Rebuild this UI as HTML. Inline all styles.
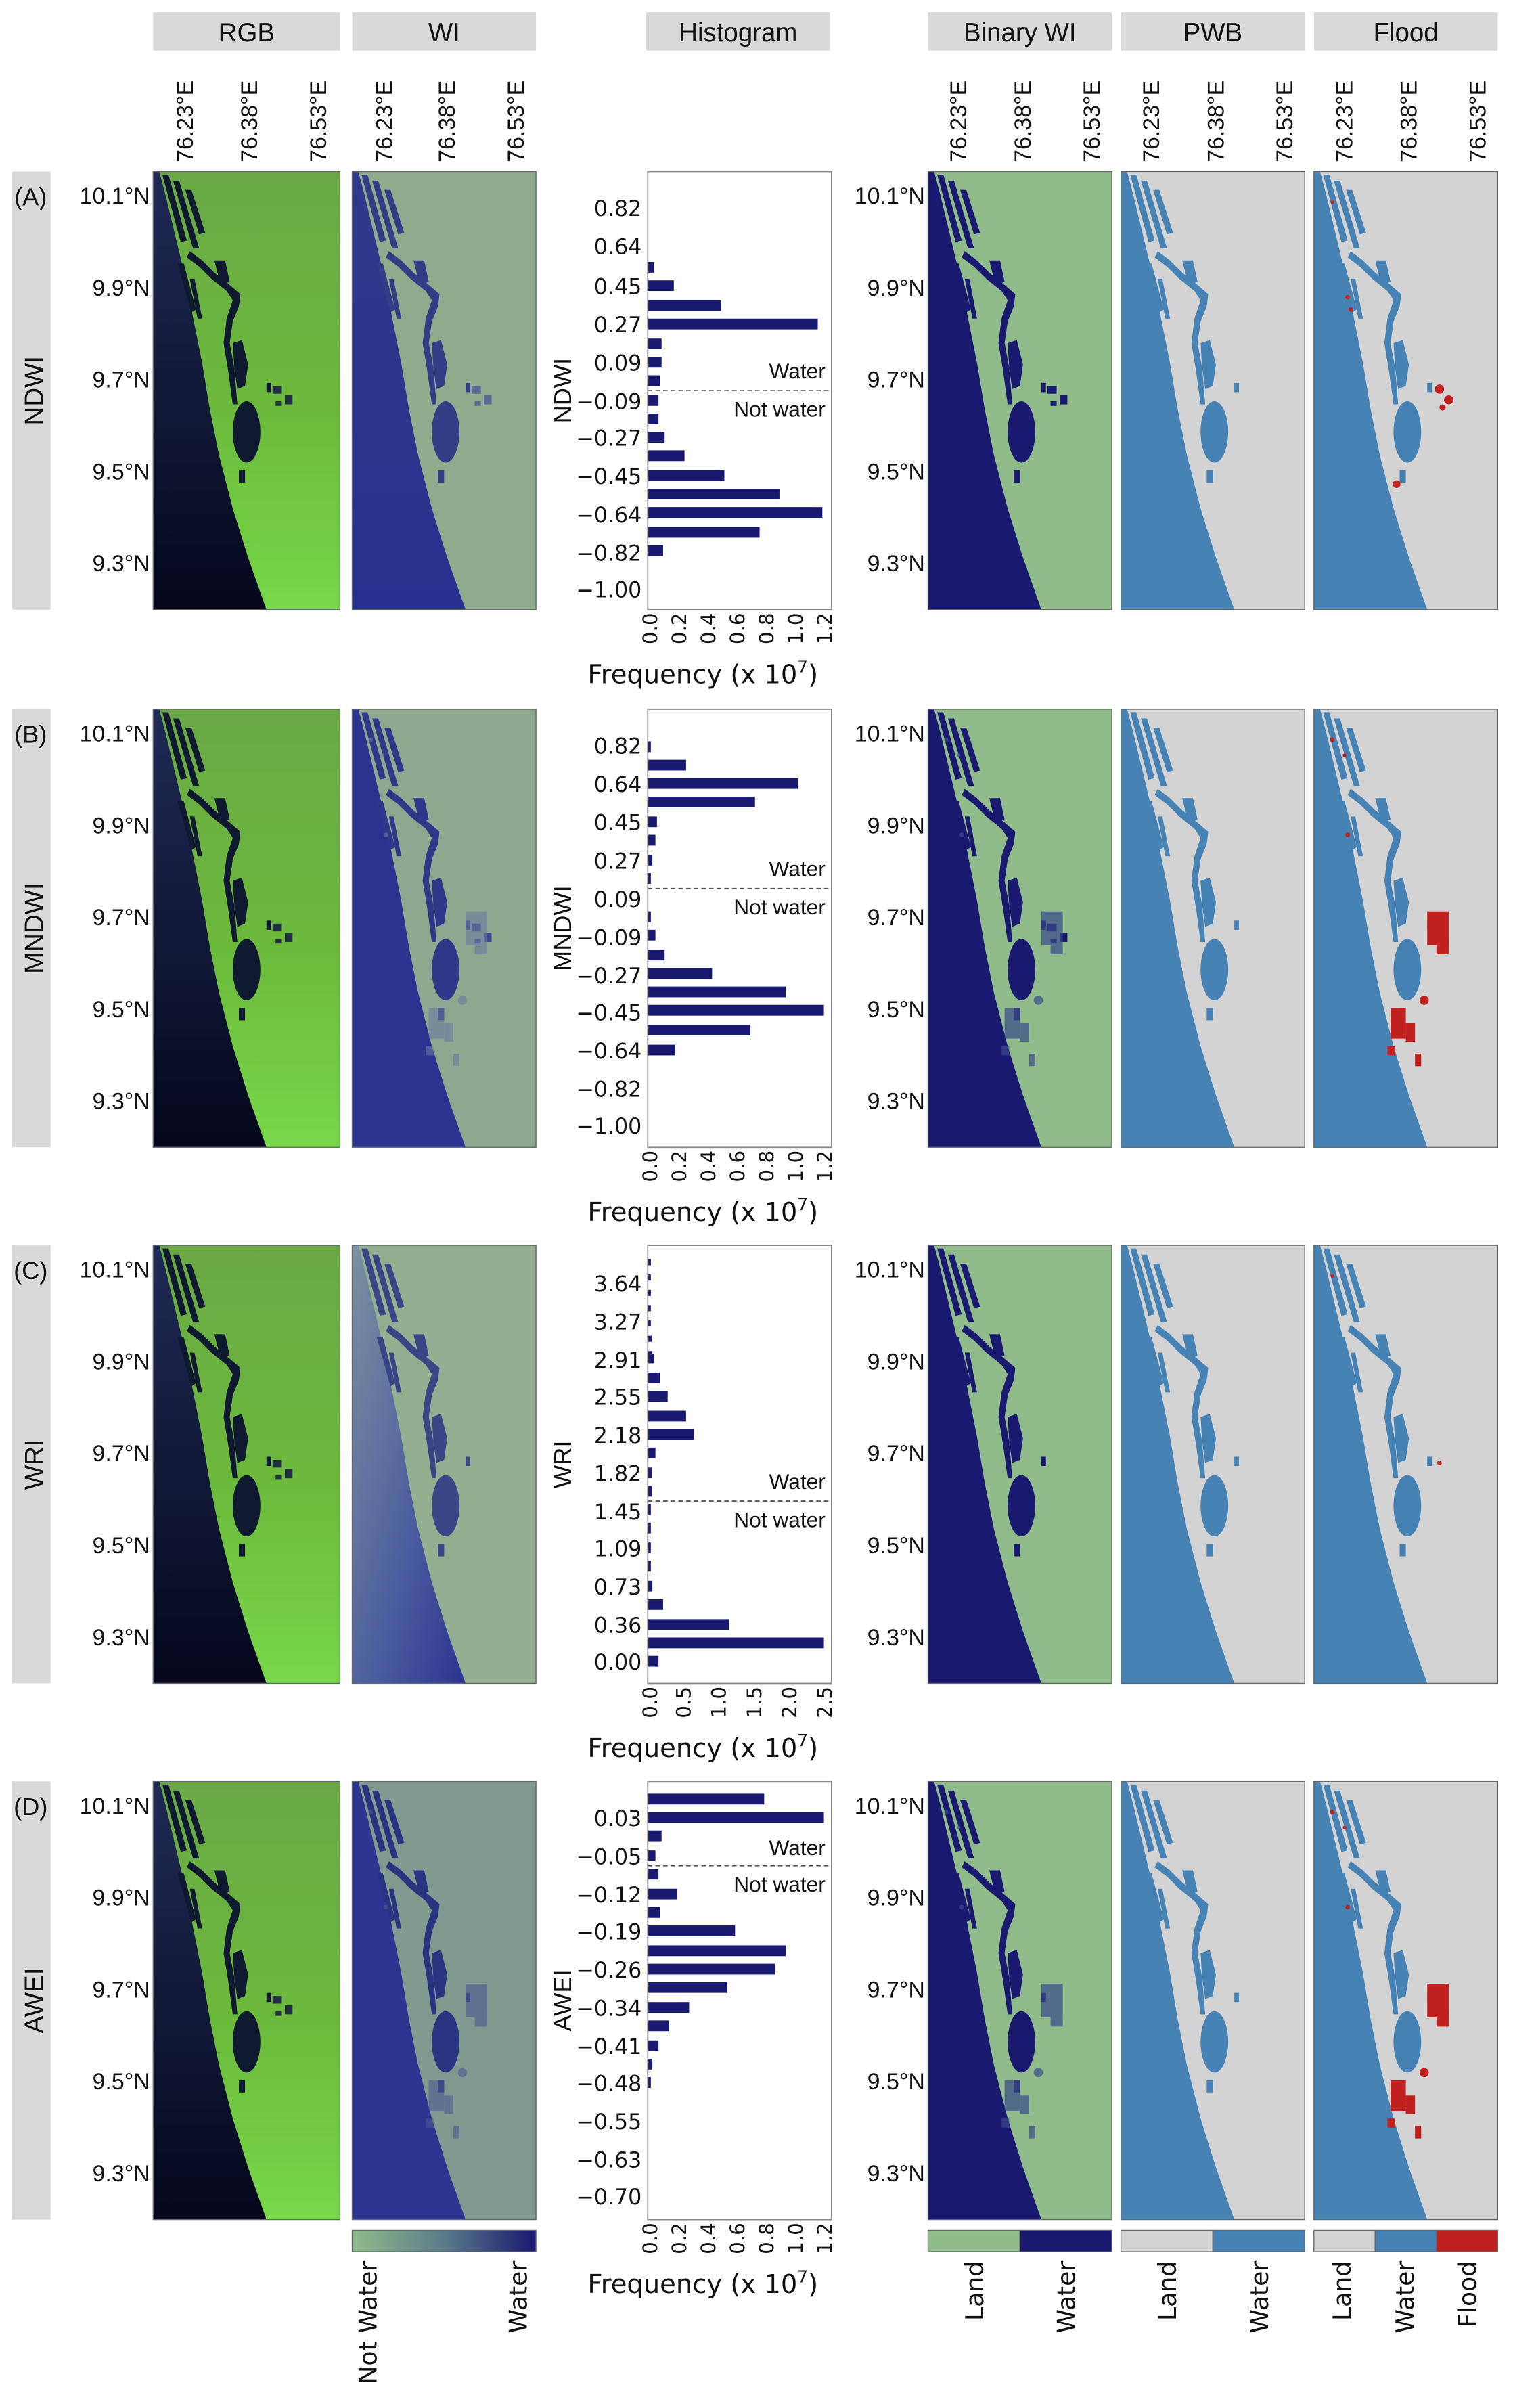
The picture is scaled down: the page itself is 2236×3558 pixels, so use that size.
<!DOCTYPE html>
<html><head><meta charset="utf-8"><style>
html,body{margin:0;padding:0;background:#fff}
svg{display:block}
.t{font-family:"Liberation Sans",sans-serif;fill:#111}
.h{font-family:"DejaVu Sans","Liberation Sans",sans-serif;fill:#111}
</style></head><body>
<svg width="2236" height="3558" viewBox="0 0 988 1572" preserveAspectRatio="none" xmlns="http://www.w3.org/2000/svg">
<defs>
<linearGradient id="rgbsea" x1="0" y1="0" x2="0" y2="1"><stop offset="0" stop-color="#1e2a55"/><stop offset="1" stop-color="#05081c"/></linearGradient>
<linearGradient id="rgbland" x1="0" y1="0" x2="0" y2="1"><stop offset="0" stop-color="#6aa845"/><stop offset="0.55" stop-color="#6cba3c"/><stop offset="1" stop-color="#78d84a"/></linearGradient>
<linearGradient id="wisea" x1="0" y1="0" x2="0" y2="1"><stop offset="0" stop-color="#2f3a8a"/><stop offset="1" stop-color="#26318f"/></linearGradient>
<linearGradient id="wicsea" x1="0" y1="0" x2="1" y2="1"><stop offset="0" stop-color="#7a92a0"/><stop offset="0.6" stop-color="#4a5c9e"/><stop offset="1" stop-color="#2a3490"/></linearGradient>
<linearGradient id="cb" x1="0" y1="0" x2="1" y2="0"><stop offset="0" stop-color="#8fbc8a"/><stop offset="0.5" stop-color="#5a7a8a"/><stop offset="1" stop-color="#191970"/></linearGradient>
<g id="sea"><polygon points="0,0 4,0 8,15 14,40 20,65 26,95 32,125 37,155 43,185 52,220 62,252 74,286 0,286"/></g>
<g id="wat">
<ellipse cx="61" cy="170" rx="9" ry="20"/>
<path d="M55,152 L53,128 L50,112 L52,98 L56,88 L57,80 L50,74 L40,66 L32,58 L24,52 L22,56 L30,62 L38,70 L48,78 L52,84 L48,96 L46,112 L49,130 L52,152 Z"/>
<polygon points="6,2 10,2 22,45 18,46"/>
<polygon points="13,6 17,6 30,50 26,50"/>
<polygon points="21,12 25,12 34,40 30,41"/>
<polygon points="40,58 47,58 50,72 44,74"/>
<polygon points="52,112 58,110 62,126 60,140 55,142 53,128"/>
<polygon points="16,60 20,60 28,90 25,92"/>
<polygon points="24,70 27,70 32,96 29,96"/>
<rect x="56" y="195" width="4" height="8"/>
<rect x="74" y="138" width="3" height="6"/>
</g>
<g id="inl">
<rect x="78" y="140" width="6" height="5"/><rect x="86" y="146" width="5" height="6"/><rect x="80" y="150" width="4" height="3"/>
</g>
<g id="flA">
<circle cx="82" cy="142" r="3"/><circle cx="88" cy="149" r="3"/><circle cx="84" cy="154" r="2"/><circle cx="54" cy="204" r="2.5"/><circle cx="22" cy="82" r="1.5"/><circle cx="24" cy="90" r="1.5"/><circle cx="12" cy="20" r="1.2"/>
</g>
<g id="flB">
<rect x="74" y="132" width="14" height="22"/><rect x="80" y="150" width="8" height="10"/><circle cx="72" cy="190" r="3"/><rect x="50" y="195" width="10" height="20"/><rect x="60" y="205" width="6" height="12"/><rect x="66" y="225" width="4" height="8"/><rect x="48" y="220" width="5" height="6"/><circle cx="22" cy="82" r="1.5"/><circle cx="12" cy="20" r="1.5"/><circle cx="20" cy="30" r="1.2"/>
</g>
</defs>

<g>
<rect x="100" y="8" width="122" height="25" fill="#d9d9d9"/><text class="t" x="161" y="27" font-size="17" text-anchor="middle">RGB</text>
<rect x="230" y="8" width="120" height="25" fill="#d9d9d9"/><text class="t" x="290" y="27" font-size="17" text-anchor="middle">WI</text>
<rect x="422" y="8" width="120" height="25" fill="#d9d9d9"/><text class="t" x="482" y="27" font-size="17" text-anchor="middle">Histogram</text>
<rect x="606" y="8" width="120" height="25" fill="#d9d9d9"/><text class="t" x="666" y="27" font-size="17" text-anchor="middle">Binary WI</text>
<rect x="732" y="8" width="120" height="25" fill="#d9d9d9"/><text class="t" x="792" y="27" font-size="17" text-anchor="middle">PWB</text>
<rect x="858" y="8" width="120" height="25" fill="#d9d9d9"/><text class="t" x="918" y="27" font-size="17" text-anchor="middle">Flood</text>
</g>
<g class="t" font-size="15">
<text transform="translate(126,106) rotate(-90)">76.23°E</text><text transform="translate(168,106) rotate(-90)">76.38°E</text><text transform="translate(213,106) rotate(-90)">76.53°E</text>
<text transform="translate(256,106) rotate(-90)">76.23°E</text><text transform="translate(297,106) rotate(-90)">76.38°E</text><text transform="translate(342,106) rotate(-90)">76.53°E</text>
<text transform="translate(631,106) rotate(-90)">76.23°E</text><text transform="translate(673,106) rotate(-90)">76.38°E</text><text transform="translate(718,106) rotate(-90)">76.53°E</text>
<text transform="translate(757,106) rotate(-90)">76.23°E</text><text transform="translate(799,106) rotate(-90)">76.38°E</text><text transform="translate(844,106) rotate(-90)">76.53°E</text>
<text transform="translate(883,106) rotate(-90)">76.23°E</text><text transform="translate(925,106) rotate(-90)">76.38°E</text><text transform="translate(970,106) rotate(-90)">76.53°E</text>
</g>

<g transform="translate(0,112)">
<rect x="8" y="0" width="25" height="286" fill="#d9d9d9"/>
<text class="t" x="20" y="22" font-size="16" text-anchor="middle">(A)</text>
<text class="t" transform="translate(28,143) rotate(-90)" font-size="17" text-anchor="middle">NDWI</text>
<g class="t" font-size="15" text-anchor="end">
<text x="98" y="21">10.1°N</text><text x="98" y="81">9.9°N</text><text x="98" y="141">9.7°N</text><text x="98" y="201">9.5°N</text><text x="98" y="261">9.3°N</text>
<text x="604" y="21">10.1°N</text><text x="604" y="81">9.9°N</text><text x="604" y="141">9.7°N</text><text x="604" y="201">9.5°N</text><text x="604" y="261">9.3°N</text>
</g>
<g transform="translate(100,0)"><rect width="122" height="286" fill="url(#rgbland)"/><use href="#sea" fill="url(#rgbsea)"/><use href="#wat" fill="#0f1a30"/><use href="#inl" fill="#203040"/><rect width="122" height="286" fill="none" stroke="#666" stroke-width="0.6"/></g>
<g transform="translate(230,0)"><rect width="120" height="286" fill="#8fab8e"/><use href="#sea" fill="url(#wisea)"/><use href="#wat" fill="#333d85"/><use href="#inl" fill="#5a6a95"/><rect width="120" height="286" fill="none" stroke="#666" stroke-width="0.6"/></g>
<g transform="translate(606,0)"><rect width="120" height="286" fill="#8fbc8a"/><use href="#sea" fill="#191970"/><use href="#wat" fill="#191970"/><use href="#inl" fill="#191970"/><rect width="120" height="286" fill="none" stroke="#666" stroke-width="0.6"/></g>
<g transform="translate(732,0)"><rect width="120" height="286" fill="#d3d3d3"/><use href="#sea" fill="#4682b4"/><use href="#wat" fill="#4682b4"/><rect width="120" height="286" fill="none" stroke="#666" stroke-width="0.6"/></g>
<g transform="translate(858,0)"><rect width="120" height="286" fill="#d3d3d3"/><use href="#sea" fill="#4682b4"/><use href="#wat" fill="#4682b4"/><use href="#flA" fill="#c0201e"/><rect width="120" height="286" fill="none" stroke="#666" stroke-width="0.6"/></g>
</g>

<g transform="translate(0,463)">
<rect x="8" y="0" width="25" height="286" fill="#d9d9d9"/>
<text class="t" x="20" y="22" font-size="16" text-anchor="middle">(B)</text>
<text class="t" transform="translate(28,143) rotate(-90)" font-size="17" text-anchor="middle">MNDWI</text>
<g class="t" font-size="15" text-anchor="end">
<text x="98" y="21">10.1°N</text><text x="98" y="81">9.9°N</text><text x="98" y="141">9.7°N</text><text x="98" y="201">9.5°N</text><text x="98" y="261">9.3°N</text>
<text x="604" y="21">10.1°N</text><text x="604" y="81">9.9°N</text><text x="604" y="141">9.7°N</text><text x="604" y="201">9.5°N</text><text x="604" y="261">9.3°N</text>
</g>
<g transform="translate(100,0)"><rect width="122" height="286" fill="url(#rgbland)"/><use href="#sea" fill="url(#rgbsea)"/><use href="#wat" fill="#0f1a30"/><use href="#inl" fill="#203040"/><rect width="122" height="286" fill="none" stroke="#666" stroke-width="0.6"/></g>
<g transform="translate(230,0)"><rect width="120" height="286" fill="#8da88e"/><use href="#sea" fill="#2a3490"/><use href="#wat" fill="#2d3888"/><use href="#inl" fill="#3a4890"/><use href="#flB" fill="#6a7aa0" opacity="0.6"/><rect width="120" height="286" fill="none" stroke="#666" stroke-width="0.6"/></g>
<g transform="translate(606,0)"><rect width="120" height="286" fill="#8fbc8a"/><use href="#sea" fill="#191970"/><use href="#wat" fill="#191970"/><use href="#inl" fill="#191970"/><use href="#flB" fill="#3a4a8a" opacity="0.7"/><rect width="120" height="286" fill="none" stroke="#666" stroke-width="0.6"/></g>
<g transform="translate(732,0)"><rect width="120" height="286" fill="#d3d3d3"/><use href="#sea" fill="#4682b4"/><use href="#wat" fill="#4682b4"/><rect width="120" height="286" fill="none" stroke="#666" stroke-width="0.6"/></g>
<g transform="translate(858,0)"><rect width="120" height="286" fill="#d3d3d3"/><use href="#sea" fill="#4682b4"/><use href="#wat" fill="#4682b4"/><use href="#flB" fill="#c0201e"/><rect width="120" height="286" fill="none" stroke="#666" stroke-width="0.6"/></g>
</g>

<g transform="translate(0,813)">
<rect x="8" y="0" width="25" height="286" fill="#d9d9d9"/>
<text class="t" x="20" y="22" font-size="16" text-anchor="middle">(C)</text>
<text class="t" transform="translate(28,143) rotate(-90)" font-size="17" text-anchor="middle">WRI</text>
<g class="t" font-size="15" text-anchor="end">
<text x="98" y="21">10.1°N</text><text x="98" y="81">9.9°N</text><text x="98" y="141">9.7°N</text><text x="98" y="201">9.5°N</text><text x="98" y="261">9.3°N</text>
<text x="604" y="21">10.1°N</text><text x="604" y="81">9.9°N</text><text x="604" y="141">9.7°N</text><text x="604" y="201">9.5°N</text><text x="604" y="261">9.3°N</text>
</g>
<g transform="translate(100,0)"><rect width="122" height="286" fill="url(#rgbland)"/><use href="#sea" fill="url(#rgbsea)"/><use href="#wat" fill="#0f1a30"/><use href="#inl" fill="#203040"/><rect width="122" height="286" fill="none" stroke="#666" stroke-width="0.6"/></g>
<g transform="translate(230,0)"><rect width="120" height="286" fill="#94ae92"/><use href="#sea" fill="url(#wicsea)"/><use href="#wat" fill="#3a4585"/><rect width="120" height="286" fill="none" stroke="#666" stroke-width="0.6"/></g>
<g transform="translate(606,0)"><rect width="120" height="286" fill="#8fbc8a"/><use href="#sea" fill="#191970"/><use href="#wat" fill="#191970"/><rect width="120" height="286" fill="none" stroke="#666" stroke-width="0.6"/></g>
<g transform="translate(732,0)"><rect width="120" height="286" fill="#d3d3d3"/><use href="#sea" fill="#4682b4"/><use href="#wat" fill="#4682b4"/><rect width="120" height="286" fill="none" stroke="#666" stroke-width="0.6"/></g>
<g transform="translate(858,0)"><rect width="120" height="286" fill="#d3d3d3"/><use href="#sea" fill="#4682b4"/><use href="#wat" fill="#4682b4"/><circle cx="82" cy="142" r="1.5" fill="#c0201e"/><circle cx="12" cy="20" r="1.2" fill="#c0201e"/><rect width="120" height="286" fill="none" stroke="#666" stroke-width="0.6"/></g>
</g>

<g transform="translate(0,1163)">
<rect x="8" y="0" width="25" height="286" fill="#d9d9d9"/>
<text class="t" x="20" y="22" font-size="16" text-anchor="middle">(D)</text>
<text class="t" transform="translate(28,143) rotate(-90)" font-size="17" text-anchor="middle">AWEI</text>
<g class="t" font-size="15" text-anchor="end">
<text x="98" y="21">10.1°N</text><text x="98" y="81">9.9°N</text><text x="98" y="141">9.7°N</text><text x="98" y="201">9.5°N</text><text x="98" y="261">9.3°N</text>
<text x="604" y="21">10.1°N</text><text x="604" y="81">9.9°N</text><text x="604" y="141">9.7°N</text><text x="604" y="201">9.5°N</text><text x="604" y="261">9.3°N</text>
</g>
<g transform="translate(100,0)"><rect width="122" height="286" fill="url(#rgbland)"/><use href="#sea" fill="url(#rgbsea)"/><use href="#wat" fill="#0f1a30"/><use href="#inl" fill="#203040"/><rect width="122" height="286" fill="none" stroke="#666" stroke-width="0.6"/></g>
<g transform="translate(230,0)"><rect width="120" height="286" fill="#7f9a8e"/><use href="#sea" fill="#2c3590"/><use href="#wat" fill="#2a3380"/><use href="#flB" fill="#4a5890" opacity="0.6"/><rect width="120" height="286" fill="none" stroke="#666" stroke-width="0.6"/></g>
<g transform="translate(606,0)"><rect width="120" height="286" fill="#8fbc8a"/><use href="#sea" fill="#191970"/><use href="#wat" fill="#191970"/><use href="#flB" fill="#3a4a8a" opacity="0.7"/><rect width="120" height="286" fill="none" stroke="#666" stroke-width="0.6"/></g>
<g transform="translate(732,0)"><rect width="120" height="286" fill="#d3d3d3"/><use href="#sea" fill="#4682b4"/><use href="#wat" fill="#4682b4"/><rect width="120" height="286" fill="none" stroke="#666" stroke-width="0.6"/></g>
<g transform="translate(858,0)"><rect width="120" height="286" fill="#d3d3d3"/><use href="#sea" fill="#4682b4"/><use href="#wat" fill="#4682b4"/><use href="#flB" fill="#c0201e"/><rect width="120" height="286" fill="none" stroke="#666" stroke-width="0.6"/></g>
</g>

<g fill="#191970">
<rect x="423" y="171" width="4" height="7"/><rect x="423" y="183" width="17" height="7"/><rect x="423" y="196" width="48" height="7"/><rect x="423" y="208" width="111" height="7"/><rect x="423" y="221" width="9" height="7"/><rect x="423" y="233" width="9" height="7"/><rect x="423" y="245" width="8" height="7"/><rect x="423" y="258" width="7" height="7"/><rect x="423" y="270" width="7" height="7"/><rect x="423" y="282" width="11" height="7"/><rect x="423" y="294" width="24" height="7"/><rect x="423" y="307" width="50" height="7"/><rect x="423" y="319" width="86" height="7"/><rect x="423" y="331" width="114" height="7"/><rect x="423" y="344" width="73" height="7"/><rect x="423" y="356" width="10" height="7"/>
<rect x="423" y="484" width="2" height="7"/><rect x="423" y="496" width="25" height="7"/><rect x="423" y="508" width="98" height="7"/><rect x="423" y="520" width="70" height="7"/><rect x="423" y="533" width="6" height="7"/><rect x="423" y="545" width="5" height="7"/><rect x="423" y="558" width="3" height="7"/><rect x="423" y="570" width="2" height="7"/><rect x="423" y="595" width="2" height="7"/><rect x="423" y="607" width="5" height="7"/><rect x="423" y="620" width="11" height="7"/><rect x="423" y="632" width="42" height="7"/><rect x="423" y="644" width="90" height="7"/><rect x="423" y="656" width="115" height="7"/><rect x="423" y="669" width="67" height="7"/><rect x="423" y="682" width="18" height="7"/>
<rect x="423" y="822" width="2" height="4"/><rect x="423" y="832" width="2" height="4"/><rect x="423" y="842" width="2" height="4"/><rect x="423" y="852" width="2" height="4"/><rect x="423" y="862" width="2" height="4"/><rect x="423" y="872" width="2.5" height="4"/><rect x="423" y="882" width="3" height="4"/><rect x="423" y="884" width="4" height="6"/>
<rect x="423" y="896" width="8" height="7"/><rect x="423" y="908" width="13" height="7"/><rect x="423" y="921" width="25" height="7"/><rect x="423" y="933" width="30" height="7"/><rect x="423" y="945" width="5" height="7"/><rect x="423" y="958" width="2.5" height="7"/><rect x="423" y="970" width="2.5" height="7"/><rect x="423" y="982" width="2" height="7"/><rect x="423" y="994" width="2" height="7"/><rect x="423" y="1007" width="2" height="7"/><rect x="423" y="1019" width="2" height="7"/><rect x="423" y="1032" width="3" height="7"/><rect x="423" y="1044" width="10" height="7"/><rect x="423" y="1057" width="53" height="7"/><rect x="423" y="1069" width="115" height="7"/><rect x="423" y="1081" width="7" height="7"/>
<rect x="423" y="1171" width="76" height="7"/><rect x="423" y="1183" width="115" height="7"/><rect x="423" y="1195" width="9" height="7"/><rect x="423" y="1208" width="5" height="7"/><rect x="423" y="1220" width="7" height="7"/><rect x="423" y="1233" width="19" height="7"/><rect x="423" y="1245" width="8" height="7"/><rect x="423" y="1257" width="57" height="7"/><rect x="423" y="1270" width="90" height="7"/><rect x="423" y="1282" width="83" height="7"/><rect x="423" y="1294" width="52" height="7"/><rect x="423" y="1307" width="27" height="7"/><rect x="423" y="1319" width="14" height="7"/><rect x="423" y="1332" width="7" height="7"/><rect x="423" y="1344" width="3" height="7"/><rect x="423" y="1356" width="2" height="7"/>
</g>
<g fill="none" stroke="#888" stroke-width="0.8">
<rect x="423" y="112" width="120" height="286"/><rect x="423" y="463" width="120" height="286"/><rect x="423" y="813" width="120" height="286"/><rect x="423" y="1163" width="120" height="286"/>
</g>
<g stroke="#555" stroke-width="0.8" stroke-dasharray="3,2">
<line x1="423" y1="255" x2="543" y2="255"/><line x1="423" y1="580" x2="543" y2="580"/><line x1="423" y1="980" x2="543" y2="980"/><line x1="423" y1="1218" x2="543" y2="1218"/>
</g>
<g class="t" font-size="14" text-anchor="end">
<text x="539" y="247">Water</text><text x="539" y="272">Not water</text>
<text x="539" y="572">Water</text><text x="539" y="597">Not water</text>
<text x="539" y="972">Water</text><text x="539" y="997">Not water</text>
<text x="539" y="1211">Water</text><text x="539" y="1235">Not water</text>
</g>
<g class="h" font-size="14" text-anchor="end">
<text x="419" y="141">0.82</text><text x="419" y="166">0.64</text><text x="419" y="192">0.45</text><text x="419" y="217">0.27</text><text x="419" y="242">0.09</text><text x="419" y="267">−0.09</text><text x="419" y="291">−0.27</text><text x="419" y="316">−0.45</text><text x="419" y="341">−0.64</text><text x="419" y="366">−0.82</text><text x="419" y="390">−1.00</text>
<text x="419" y="492">0.82</text><text x="419" y="517">0.64</text><text x="419" y="542">0.45</text><text x="419" y="567">0.27</text><text x="419" y="592">0.09</text><text x="419" y="617">−0.09</text><text x="419" y="642">−0.27</text><text x="419" y="666">−0.45</text><text x="419" y="691">−0.64</text><text x="419" y="716">−0.82</text><text x="419" y="740">−1.00</text>
<text x="419" y="843">3.64</text><text x="419" y="868">3.27</text><text x="419" y="893">2.91</text><text x="419" y="917">2.55</text><text x="419" y="942">2.18</text><text x="419" y="967">1.82</text><text x="419" y="992">1.45</text><text x="419" y="1016">1.09</text><text x="419" y="1041">0.73</text><text x="419" y="1066">0.36</text><text x="419" y="1090">0.00</text>
<text x="419" y="1192">0.03</text><text x="419" y="1217">−0.05</text><text x="419" y="1242">−0.12</text><text x="419" y="1266">−0.19</text><text x="419" y="1291">−0.26</text><text x="419" y="1316">−0.34</text><text x="419" y="1341">−0.41</text><text x="419" y="1365">−0.48</text><text x="419" y="1390">−0.55</text><text x="419" y="1415">−0.63</text><text x="419" y="1439">−0.70</text>
</g>
<g class="t" font-size="16" text-anchor="middle">
<text transform="translate(373,255) rotate(-90)">NDWI</text>
<text transform="translate(373,606) rotate(-90)">MNDWI</text>
<text transform="translate(373,956) rotate(-90)">WRI</text>
<text transform="translate(373,1306) rotate(-90)">AWEI</text>
</g>
<g class="h" font-size="13" text-anchor="end">
<g transform="translate(0,400)"><text transform="translate(429,0) rotate(-90)">0.0</text><text transform="translate(448,0) rotate(-90)">0.2</text><text transform="translate(467,0) rotate(-90)">0.4</text><text transform="translate(486,0) rotate(-90)">0.6</text><text transform="translate(505,0) rotate(-90)">0.8</text><text transform="translate(524,0) rotate(-90)">1.0</text><text transform="translate(543,0) rotate(-90)">1.2</text></g>
<g transform="translate(0,751)"><text transform="translate(429,0) rotate(-90)">0.0</text><text transform="translate(448,0) rotate(-90)">0.2</text><text transform="translate(467,0) rotate(-90)">0.4</text><text transform="translate(486,0) rotate(-90)">0.6</text><text transform="translate(505,0) rotate(-90)">0.8</text><text transform="translate(524,0) rotate(-90)">1.0</text><text transform="translate(543,0) rotate(-90)">1.2</text></g>
<g transform="translate(0,1101)"><text transform="translate(429,0) rotate(-90)">0.0</text><text transform="translate(451,0) rotate(-90)">0.5</text><text transform="translate(474,0) rotate(-90)">1.0</text><text transform="translate(497,0) rotate(-90)">1.5</text><text transform="translate(520,0) rotate(-90)">2.0</text><text transform="translate(543,0) rotate(-90)">2.5</text></g>
<g transform="translate(0,1451)"><text transform="translate(429,0) rotate(-90)">0.0</text><text transform="translate(448,0) rotate(-90)">0.2</text><text transform="translate(467,0) rotate(-90)">0.4</text><text transform="translate(486,0) rotate(-90)">0.6</text><text transform="translate(505,0) rotate(-90)">0.8</text><text transform="translate(524,0) rotate(-90)">1.0</text><text transform="translate(543,0) rotate(-90)">1.2</text></g>
</g>
<g class="h" font-size="17" text-anchor="middle">
<text x="459" y="446">Frequency (x 10<tspan font-size="11" dy="-7">7</tspan><tspan dy="7">)</tspan></text>
<text x="459" y="797">Frequency (x 10<tspan font-size="11" dy="-7">7</tspan><tspan dy="7">)</tspan></text>
<text x="459" y="1147">Frequency (x 10<tspan font-size="11" dy="-7">7</tspan><tspan dy="7">)</tspan></text>
<text x="459" y="1497">Frequency (x 10<tspan font-size="11" dy="-7">7</tspan><tspan dy="7">)</tspan></text>
</g>

<g stroke="#666" stroke-width="0.6">
<rect x="230" y="1456" width="120" height="14" fill="url(#cb)"/>
<rect x="606" y="1456" width="60" height="14" fill="#8fbc8a"/><rect x="666" y="1456" width="60" height="14" fill="#191970"/>
<rect x="732" y="1456" width="60" height="14" fill="#d3d3d3"/><rect x="792" y="1456" width="60" height="14" fill="#4682b4"/>
<rect x="858" y="1456" width="40" height="14" fill="#d3d3d3"/><rect x="898" y="1456" width="40" height="14" fill="#4682b4"/><rect x="938" y="1456" width="40" height="14" fill="#c0201e"/>
</g>
<g class="h" font-size="16" text-anchor="end">
<text transform="translate(246,1476) rotate(-90)">Not Water</text>
<text transform="translate(344,1476) rotate(-90)">Water</text>
<text transform="translate(642,1476) rotate(-90)">Land</text>
<text transform="translate(702,1476) rotate(-90)">Water</text>
<text transform="translate(768,1476) rotate(-90)">Land</text>
<text transform="translate(828,1476) rotate(-90)">Water</text>
<text transform="translate(882,1476) rotate(-90)">Land</text>
<text transform="translate(923,1476) rotate(-90)">Water</text>
<text transform="translate(964,1476) rotate(-90)">Flood</text>
</g>
</svg>
</body></html>
